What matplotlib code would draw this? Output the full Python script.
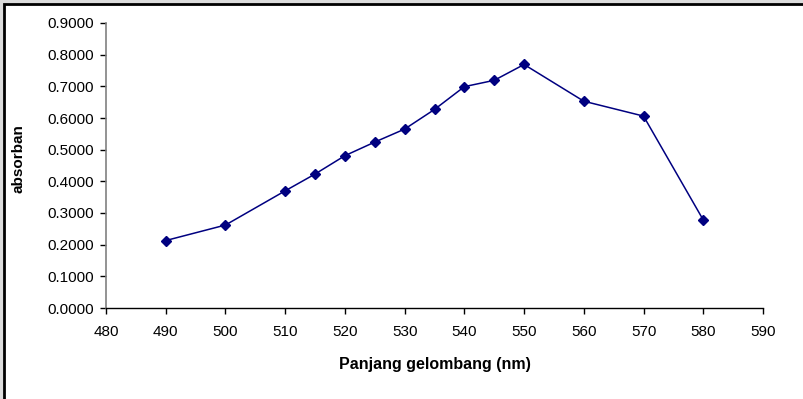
import matplotlib
matplotlib.use("Agg")
import matplotlib.pyplot as plt
from matplotlib.patches import Rectangle

wavelength = [490, 500, 510, 515, 520, 525, 530, 535, 540, 545, 550, 560, 570, 580]
absorbance = [0.213, 0.262, 0.370, 0.423, 0.481, 0.524, 0.565, 0.627, 0.699, 0.719, 0.769, 0.653, 0.606, 0.278]
x_ticks = [480, 490, 500, 510, 520, 530, 540, 550, 560, 570, 580, 590]
y_ticks = [0.0, 0.1, 0.2, 0.3, 0.4, 0.5, 0.6, 0.7, 0.8, 0.9]

plt.rcParams['font.family'] = ['Liberation Sans', 'DejaVu Sans']

W, H = 804, 399
fig = plt.figure(figsize=(W / 100, H / 100), dpi=100)
fig.patch.set_facecolor('#dcdcdc')
fig.patches.append(Rectangle((4 / W, -0.1), 1.2, (H - 4) / H + 0.1, transform=fig.transFigure,
                             facecolor='white', edgecolor='black', linewidth=2, zorder=-10))

ax = fig.add_axes([106 / W, (H - 308) / H, (763 - 106) / W, (308 - 23) / H])
ax.set_facecolor('none')
ax.plot(wavelength, absorbance, color='#000080', linewidth=1.1, marker='D', markersize=5,
        markerfacecolor='#000080', markeredgecolor='#000080', clip_on=False)

ax.set_xlim(480, 590)
ax.set_ylim(0, 0.9)
ax.set_xticks(x_ticks)
ax.set_xticklabels([str(v) for v in x_ticks])
ax.set_yticks(y_ticks)
ax.set_yticklabels([f"{v:.4f}" for v in y_ticks])
ax.tick_params(axis='both', direction='out', length=4, width=1, labelsize=11, colors='black')
ax.tick_params(axis='x', pad=8)
ax.tick_params(axis='y', pad=5)
for s in ['top', 'right']:
    ax.spines[s].set_visible(False)
ax.spines['left'].set_color('#808080')
ax.spines['left'].set_linewidth(1.2)
ax.spines['bottom'].set_color('black')
ax.spines['bottom'].set_linewidth(1)

ax.set_xlabel('Panjang gelombang (nm)', fontsize=11.5, fontweight='bold', labelpad=13)
fig.text(19 / W, (H - 193) / H, 'absorban', rotation=90, fontsize=11, fontweight='bold',
         ha='center', va='bottom')

fig.savefig('out.png', dpi=100, facecolor=fig.get_facecolor())
